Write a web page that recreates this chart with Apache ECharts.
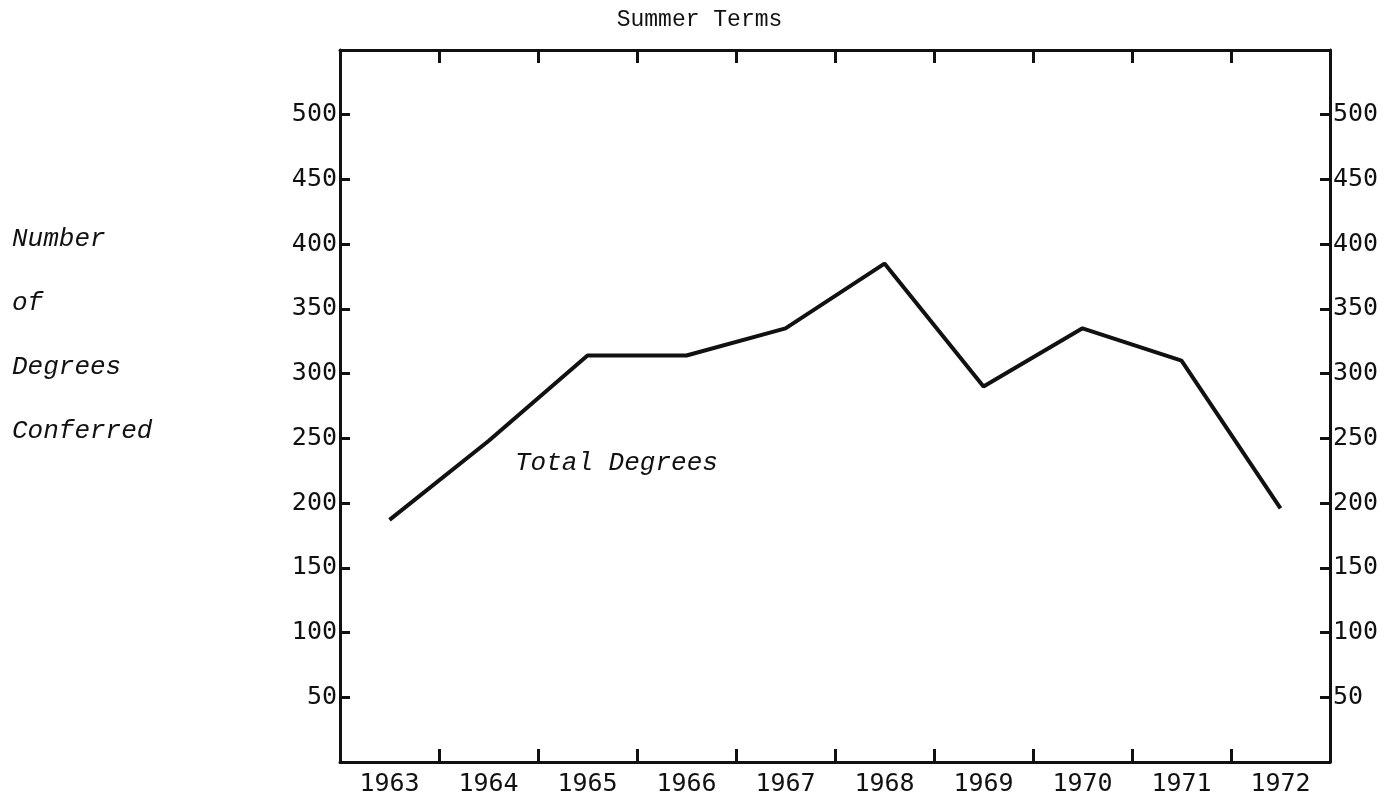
<!DOCTYPE html>
<html>
<head>
<meta charset="utf-8">
<title>Summer Terms</title>
<script src="https://cdn.jsdelivr.net/npm/echarts/dist/echarts.min.js"></script>
<style>
  html, body { margin: 0; padding: 0; background: #fff; }
  #chart { width: 1399px; height: 800px; }
</style>
</head>
<body>
<div id="chart"></div>
<script>
// data
const years = ['1963', '1964', '1965', '1966', '1967', '1968', '1969', '1970', '1971', '1972'];
const totalDegrees = [187, 248, 314, 314, 335, 385, 290, 335, 310, 196];
const yMin = 0;
const yMax = 550;
const yStep = 50;

const ink = '#111';
const numFont = '"DejaVu Sans Mono", monospace';
const typeFont = '"Liberation Mono", "DejaVu Sans Mono", monospace';

const myChart = echarts.init(document.getElementById('chart'));

// hide the labels at both ends of the value axis (0 and 550 are not printed)
function yLabel(v) {
  if (v === yMin || v === yMax) {
    return '';
  }
  return String(v);
}

const xAxisBase = {
  type: 'category',
  data: years,
  boundaryGap: true,
  axisLine: { show: true, onZero: false, lineStyle: { color: ink, width: 3 } },
  axisTick: { show: true, inside: true, length: 13, lineStyle: { color: ink, width: 3 } },
  splitLine: { show: false },
};

const yAxisBase = {
  type: 'value',
  min: yMin,
  max: yMax,
  interval: yStep,
  axisLine: { show: true, onZero: false, lineStyle: { color: ink, width: 3 } },
  axisTick: { show: true, inside: true, length: 10, lineStyle: { color: ink, width: 3 } },
  splitLine: { show: false },
};

myChart.setOption({
  backgroundColor: '#fff',
  animation: false,
  grid: { left: 340, right: 69, top: 50, bottom: 38 },
  xAxis: [
    Object.assign({}, xAxisBase, {
      position: 'bottom',
      axisLabel: { color: ink, fontFamily: numFont, fontSize: 25, margin: 10 },
    }),
    Object.assign({}, xAxisBase, {
      position: 'top',
      axisLabel: { show: false },
    }),
  ],
  yAxis: [
    Object.assign({}, yAxisBase, {
      position: 'left',
      axisLabel: { color: ink, fontFamily: numFont, fontSize: 25, margin: 3, formatter: yLabel },
    }),
    Object.assign({}, yAxisBase, {
      position: 'right',
      axisLabel: {
        color: ink, fontFamily: numFont, fontSize: 25, margin: 3,
        padding: [0, 0, 14, 0], formatter: yLabel,
      },
    }),
  ],
  series: [{
    name: 'Total Degrees',
    type: 'line',
    data: totalDegrees,
    xAxisIndex: 0,
    yAxisIndex: 0,
    symbol: 'none',
    lineStyle: { color: ink, width: 4 },
  }],
  graphic: [
    {
      type: 'text',
      left: 'center',
      top: 8,
      style: { text: 'Summer Terms', font: '23px ' + typeFont, fill: ink },
    },
    {
      // y axis caption, typed one word per line
      type: 'text',
      left: 12,
      top: 207,
      style: {
        text: 'Number\nof\nDegrees\nConferred',
        font: 'italic 26px ' + typeFont,
        lineHeight: 64,
        fill: ink,
      },
    },
    {
      type: 'text',
      left: 515,
      top: 450,
      style: { text: 'Total Degrees', font: 'italic 26px ' + typeFont, fill: ink },
    },
  ],
});
</script>
</body>
</html>
